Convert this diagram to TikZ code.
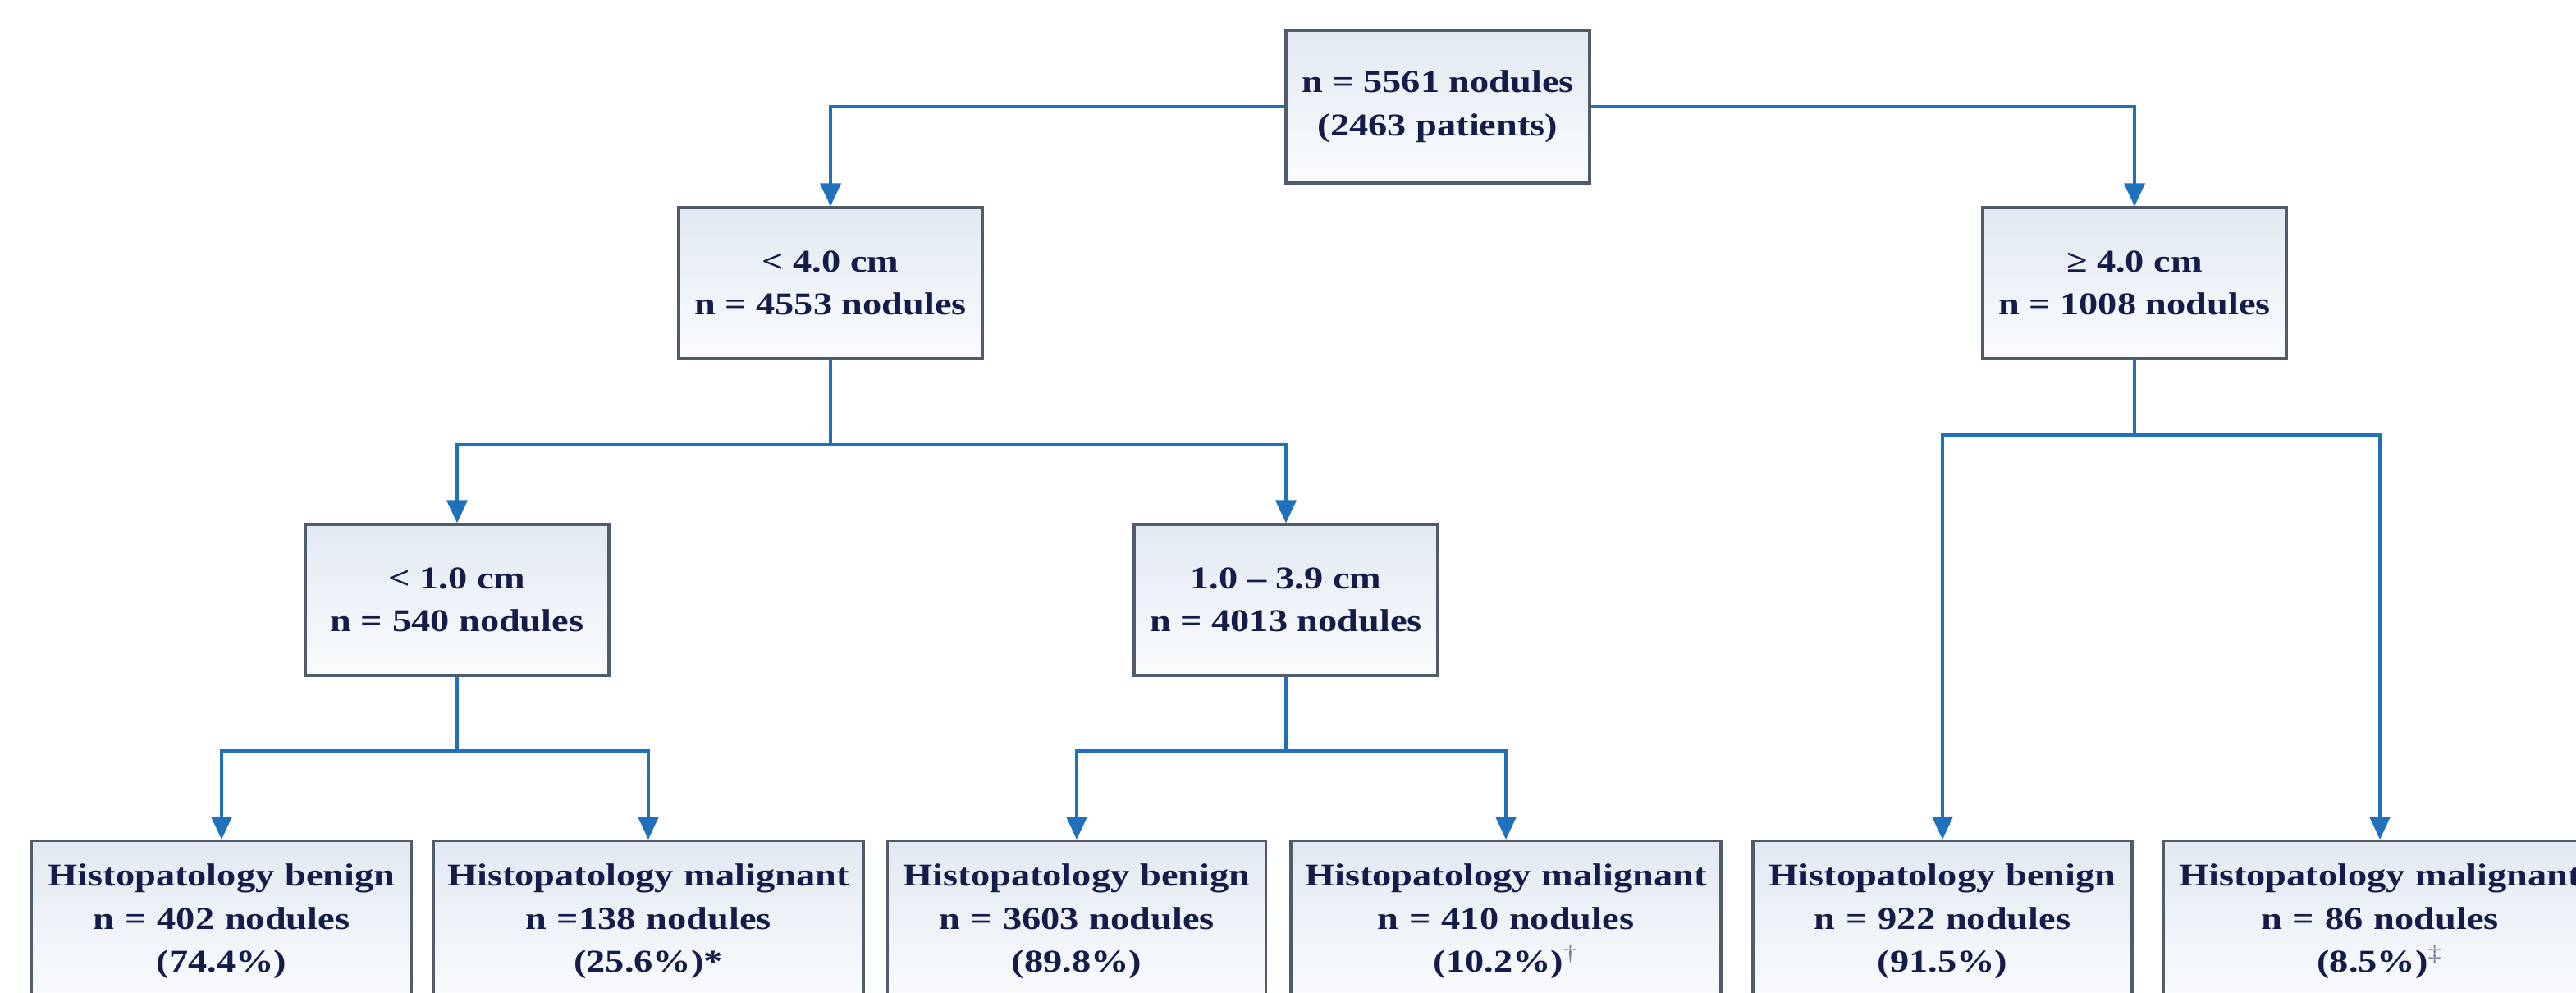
\documentclass[tikz,border=0pt]{standalone}
\usepackage{fontspec}
\setmainfont{Liberation Serif}[FakeStretch=1.2]
\usetikzlibrary{arrows.meta,positioning}
\definecolor{nbblue}{RGB}{31,113,187}
\definecolor{nbedge}{RGB}{80,92,108}
\definecolor{nbtext}{RGB}{20,28,74}
\definecolor{nbtop}{RGB}{226,233,241}
\definecolor{nbbot}{RGB}{250,252,254}

\begin{document}
\begin{tikzpicture}[
  every node/.style={font=\fontsize{11}{15}\selectfont\bfseries, text=nbtext},
  sizebox/.style={draw=nbedge, line width=0.9pt, top color=nbtop, bottom color=nbbot,
                  minimum width=3.7cm, minimum height=1.84cm, align=center},
  leafbox/.style={draw=nbedge, line width=0.9pt, top color=nbtop, bottom color=nbbot,
                  anchor=north, align=center, text width=#1, inner xsep=0pt, inner ysep=0.28cm},
  link/.style={nbblue, line width=1.1pt},
  arr/.style={link, -{Triangle[width=0.25cm, length=0.28cm]}}
]
\path[use as bounding box] (0,0) rectangle (31.39,-12.09);
\clip (0,0) rectangle (31.39,-12.09);

% all nodules
\node[sizebox, minimum height=1.86cm] (root) at (17.52,-1.30) {n = 5561 nodules\\(2463 patients)};

% first split by size
\node[sizebox] (lt4) at (10.12,-3.45) {< 4.0 cm\\n = 4553 nodules};
\node[sizebox] (ge4) at (26.01,-3.45) {≥ 4.0 cm\\n = 1008 nodules};

% second split of the small ones
\node[sizebox] (lt1) at (5.57,-7.31) {< 1.0 cm\\n = 540 nodules};
\node[sizebox] (mid) at (15.67,-7.31) {1.0 -- 3.9 cm\\n = 4013 nodules};

% histopathology results
\node[leafbox=4.63cm] (ben1) at (2.70,-10.23) {Histopatology benign\\n = 402 nodules\\(74.4\%)};
\node[leafbox=5.24cm] (mal1) at (7.90,-10.23) {Histopatology malignant\\n =138 nodules\\(25.6\%)*};
\node[leafbox=4.61cm] (ben2) at (13.12,-10.23) {Histopatology benign\\n = 3603 nodules\\(89.8\%)};
\node[leafbox=5.24cm] (mal2) at (18.35,-10.23) {Histopatology malignant\\n = 410 nodules\\(10.2\%){\mdseries\textcolor{nbtext!55}{\textsuperscript{†}}}};
\node[leafbox=4.62cm] (ben3) at (23.67,-10.23) {Histopatology benign\\n = 922 nodules\\(91.5\%)};
\node[leafbox=5.28cm] (mal3) at (29.00,-10.23) {Histopatology malignant\\n = 86 nodules\\(8.5\%){\mdseries\textcolor{nbtext!55}{\textsuperscript{‡}}}};

% connectors
\draw[arr] (root.west) -| (lt4.north);
\draw[arr] (root.east) -| (ge4.north);

\coordinate (lt4j) at (10.12,-5.42);
\draw[link] (lt4.south) -- (lt4j);
\draw[arr] (lt4j) -| (lt1.north);
\draw[arr] (lt4j) -| (mid.north);

\coordinate (ge4j) at (26.01,-5.30);
\draw[link] (ge4.south) -- (ge4j);
\draw[arr] (ge4j) -| (ben3.north);
\draw[arr] (ge4j) -| (mal3.north);

\coordinate (lt1j) at (5.57,-9.15);
\draw[link] (lt1.south) -- (lt1j);
\draw[arr] (lt1j) -| (ben1.north);
\draw[arr] (lt1j) -| (mal1.north);

\coordinate (midj) at (15.67,-9.15);
\draw[link] (mid.south) -- (midj);
\draw[arr] (midj) -| (ben2.north);
\draw[arr] (midj) -| (mal2.north);
\end{tikzpicture}
\end{document}
